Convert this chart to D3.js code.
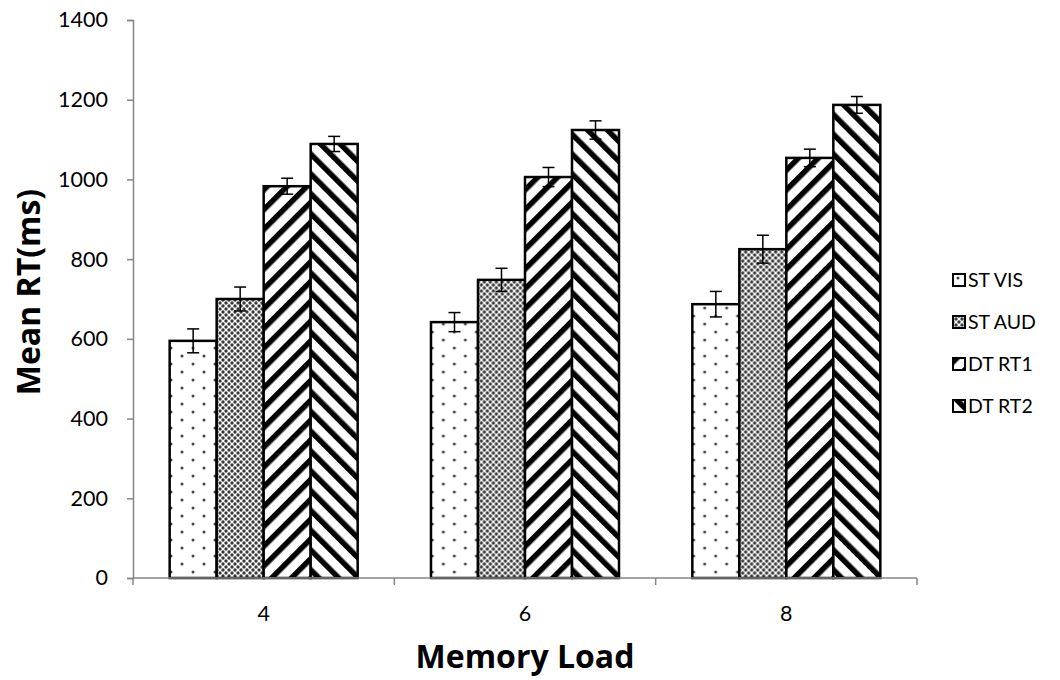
<!DOCTYPE html>
<html>
<head>
<meta charset="utf-8">
<script src="https://cdn.jsdelivr.net/npm/d3@7"></script>
<style>
  html, body { margin: 0; padding: 0; background: #fff; }
  svg { display: block; }
  text { font-family: Lato, "Open Sans", "DejaVu Sans", sans-serif; fill: #000; }
</style>
</head>
<body>
<svg id="chart" width="1060" height="680"></svg>
<script>
// ---- data ----
const categories = ["4", "6", "8"];
const seriesNames = ["ST VIS", "ST AUD", "DT RT1", "DT RT2"];
const stVis  = [595, 642, 687];
const stAud  = [700, 748, 825];
const dtRt1  = [983, 1006, 1054];
const dtRt2  = [1089, 1124, 1187];
const errVis = [30, 24, 32];
const errAud = [30, 29, 35];
const errRt1 = [20, 24, 22];
const errRt2 = [19, 23, 21];
const yTicks = [0, 200, 400, 600, 800, 1000, 1200, 1400];
const yTitle = "Mean RT(ms)";
const xTitle = "Memory Load";

const seriesValues = [stVis, stAud, dtRt1, dtRt2];
const seriesErrors = [errVis, errAud, errRt1, errRt2];
const patternIds = ["pVis", "pAud", "pRt1", "pRt2"];

const svg = d3.select("#chart");
const margin = { left: 133, right: 143, top: 20, bottom: 102 };
const W = 1060, H = 680;

// ---- patterns ----
const defs = svg.append("defs");
const pv = defs.append("pattern").attr("id", "pVis").attr("patternUnits", "userSpaceOnUse")
  .attr("width", 22).attr("height", 16);
pv.append("rect").attr("width", 22).attr("height", 16).attr("fill", "#fff");
pv.append("circle").attr("cx", 5).attr("cy", 4).attr("r", 1.5).attr("fill", "#444");
pv.append("circle").attr("cx", 16).attr("cy", 12).attr("r", 1.5).attr("fill", "#444");

const pa = defs.append("pattern").attr("id", "pAud").attr("patternUnits", "userSpaceOnUse")
  .attr("width", 6).attr("height", 6);
pa.append("rect").attr("width", 6).attr("height", 6).attr("fill", "#fff");
[[0,0],[6,0],[0,6],[6,6],[3,3]].forEach(([cx,cy]) =>
  pa.append("circle").attr("cx", cx).attr("cy", cy).attr("r", 1.7).attr("fill", "#3a3a3a"));

function stripes(id, angle) {
  const p = defs.append("pattern").attr("id", id).attr("patternUnits", "userSpaceOnUse")
    .attr("width", 14).attr("height", 14).attr("patternTransform", `rotate(${angle})`);
  p.append("rect").attr("width", 14).attr("height", 14).attr("fill", "#fff");
  p.append("rect").attr("x", 0).attr("width", 5.5).attr("height", 14).attr("fill", "#000");
}
stripes("pRt1", 45);
stripes("pRt2", -45);

// ---- scales ----
const x0 = d3.scaleBand().domain(categories).range([margin.left, W - margin.right])
  .paddingInner(0).paddingOuter(0);
const x1 = d3.scaleBand().domain(seriesNames).range([0, x0.bandwidth()])
  .paddingInner(0).paddingOuter(0.78);
const y = d3.scaleLinear().domain([0, 1400]).range([H - margin.bottom, margin.top]);

const axisColor = "#868686";

// ---- y axis ----
const yAxis = svg.append("g").attr("transform", `translate(${margin.left},0)`)
  .call(d3.axisLeft(y).tickValues(yTicks).tickSize(6).tickPadding(19).tickFormat(d3.format("d")));
yAxis.select(".domain").attr("stroke", axisColor).attr("stroke-width", 1.5);
yAxis.selectAll(".tick line").attr("stroke", axisColor).attr("stroke-width", 1.5);
yAxis.selectAll(".tick text").attr("font-size", 21.5).attr("font-family", "Lato, sans-serif").attr("fill", "#000");

// ---- bars ----
const groups = svg.append("g").selectAll("g").data(categories).join("g")
  .attr("transform", d => `translate(${x0(d)},0)`);

const barData = (c, ci) => seriesNames.map((s, si) => ({
  s, si, v: seriesValues[si][ci], e: seriesErrors[si][ci]
}));

groups.each(function(c, ci) {
  const g = d3.select(this);
  const data = barData(c, ci);
  g.selectAll("rect.bar").data(data).join("rect").attr("class", "bar")
    .attr("x", d => x1(d.s)).attr("width", x1.bandwidth())
    .attr("y", d => y(d.v)).attr("height", d => y(0) - y(d.v))
    .attr("fill", d => `url(#${patternIds[d.si]})`)
    .attr("stroke", "#000").attr("stroke-width", 2.5);
  const eb = g.selectAll("g.err").data(data).join("g").attr("class", "err")
    .attr("stroke", "#000").attr("stroke-width", 1.5);
  const cx = d => x1(d.s) + x1.bandwidth() / 2;
  eb.append("line")
    .attr("x1", cx).attr("x2", cx)
    .attr("y1", d => y(d.v + d.e)).attr("y2", d => y(d.v - d.e));
  eb.append("line")
    .attr("x1", d => cx(d) - 6).attr("x2", d => cx(d) + 6)
    .attr("y1", d => y(d.v + d.e)).attr("y2", d => y(d.v + d.e));
  eb.append("line")
    .attr("x1", d => cx(d) - 6).attr("x2", d => cx(d) + 6)
    .attr("y1", d => y(d.v - d.e)).attr("y2", d => y(d.v - d.e));
});

// ---- x axis ----
const xg = svg.append("g").attr("transform", `translate(0,${y(0)})`);
xg.append("line").attr("x1", margin.left).attr("x2", W - margin.right)
  .attr("y1", 0).attr("y2", 0).attr("stroke", axisColor).attr("stroke-width", 1.5);
const bounds = [margin.left].concat(categories.map(c => x0(c) + x0.bandwidth()));
xg.selectAll("line.tk").data(bounds).join("line").attr("class", "tk")
  .attr("x1", d => d).attr("x2", d => d).attr("y1", 0).attr("y2", 7)
  .attr("stroke", axisColor).attr("stroke-width", 1.5);
xg.selectAll("text.lbl").data(categories).join("text").attr("class", "lbl")
  .attr("x", d => x0(d) + x0.bandwidth() / 2).attr("y", 43)
  .attr("text-anchor", "middle").attr("font-size", 21.5).text(d => d);

// ---- titles ----
svg.append("text").attr("x", (margin.left + W - margin.right) / 2).attr("y", 668)
  .attr("text-anchor", "middle").attr("font-size", 32).attr("font-weight", "bold")
  .style("font-family", "'Open Sans', sans-serif").text(xTitle);
svg.append("text").attr("transform", `translate(40,${(y(0) + y(1400)) / 2 - 7}) rotate(-90)`)
  .attr("text-anchor", "middle").attr("font-size", 32).attr("font-weight", "bold")
  .style("font-family", "'Open Sans', sans-serif").text(yTitle);

// ---- legend ----
const leg = svg.append("g").attr("transform", "translate(953,274)");
const li = leg.selectAll("g").data(seriesNames).join("g")
  .attr("transform", (d, i) => `translate(0,${i * 42})`);
li.append("rect").attr("width", 12).attr("height", 12)
  .attr("fill", (d, i) => `url(#${patternIds[i]})`)
  .attr("stroke", "#000").attr("stroke-width", 2);
li.append("text").attr("x", 15).attr("y", 13).attr("font-size", 19.5).text(d => d);
</script>
</body>
</html>
